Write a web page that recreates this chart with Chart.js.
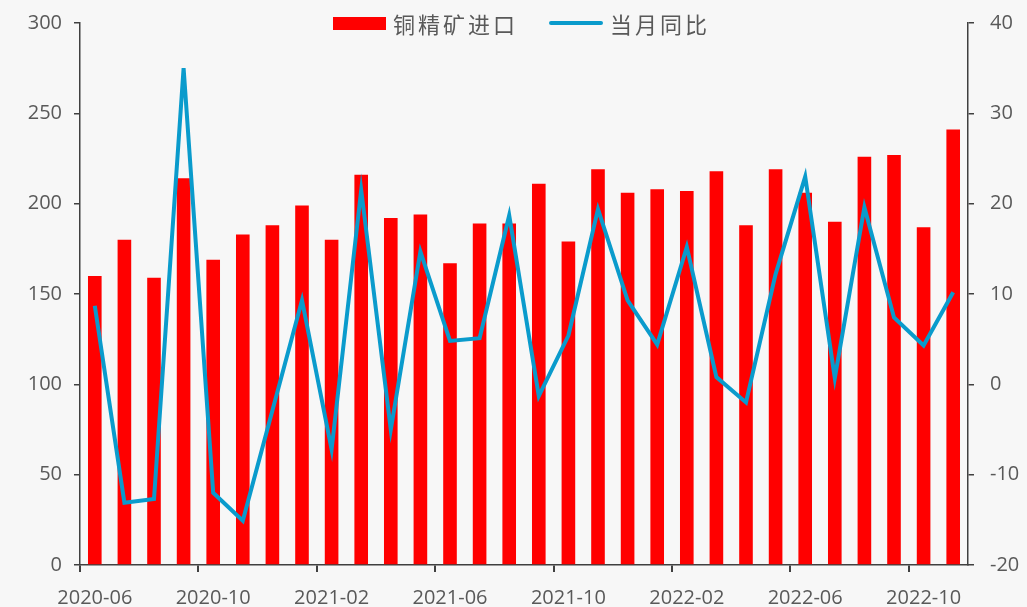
<!DOCTYPE html>
<html>
<head>
<meta charset="utf-8">
<script src="https://cdn.jsdelivr.net/npm/chart.js@4.4.0/dist/chart.umd.min.js"></script>
<style>
  html, body { margin: 0; padding: 0; background: #f7f7f7; }
  #wrap { position: relative; width: 1027px; height: 607px; }
  #legend { position: absolute; top: 7px; left: 333px; display: flex; align-items: center;
    font-family: "Noto Sans CJK SC", sans-serif; font-size: 22px; color: #595959; letter-spacing: 3px; }
  .sw-bar { display: inline-block; width: 53px; height: 13px; background: #ff0000; margin-right: 7px; }
  .sw-line { display: inline-block; width: 54px; height: 4px; background: #0a9bcc; border-radius: 2px; margin: 0 7px 0 31px; }
</style>
</head>
<body>
<div id="wrap">
  <canvas id="chart" width="1027" height="607"></canvas>
  <div id="legend"><span class="sw-bar"></span><span>铜精矿进口</span><span class="sw-line"></span><span>当月同比</span></div>
</div>
<script>
// months 2020-06 .. 2022-11
const months = [];
for (let i = 0; i < 30; i++) {
  const y = 2020 + Math.floor((5 + i) / 12);
  const m = (5 + i) % 12 + 1;
  months.push(y + "-" + String(m).padStart(2, "0"));
}

// 铜精矿进口 (万吨)
const imports = [160, 180, 159, 214, 169, 183, 188, 199, 180, 216,
                 192, 194, 167, 189, 189, 211, 179, 219, 206, 208,
                 207, 218, 188, 219, 206, 190, 226, 227, 187, 241];

// 当月同比 (%)
const yoy = [8.7, -13.1, -12.7, 35.0, -12.0, -15.1, -2.9, 9.3, -7.2, 21.5,
             -5.0, 14.7, 4.8, 5.1, 18.7, -1.3, 5.4, 19.4, 9.3, 4.4,
             15.2, 0.8, -2.0, 12.2, 23.0, 0.7, 19.6, 7.4, 4.3, 10.2];

const textColor = "#595959";
const axisColor = "#404040";
const tickFont = { family: "'Open Sans', sans-serif", size: 20 };

// y axes: fixed width, no extra top padding for the labels
const fitY = (w) => (s) => { s.width = w; s.paddingTop = 0; s.paddingBottom = 0; };

new Chart(document.getElementById("chart"), {
  type: "bar",
  data: {
    labels: months,
    datasets: [
      {
        type: "line",
        label: "当月同比",
        data: yoy,
        yAxisID: "y1",
        borderColor: "#0a9bcc",
        borderWidth: 4,
        pointRadius: 0,
        tension: 0,
        order: 0
      },
      {
        type: "bar",
        label: "铜精矿进口",
        data: imports,
        yAxisID: "y",
        backgroundColor: "#ff0000",
        barPercentage: 0.46,
        categoryPercentage: 1,
        order: 1
      }
    ]
  },
  options: {
    responsive: false,
    animation: false,
    layout: { padding: { top: 23, right: 0, left: 0, bottom: 0 } },
    plugins: { legend: { display: false }, tooltip: { enabled: false } },
    scales: {
      x: {
        offset: true,
        grid: {
          offset: true,
          drawOnChartArea: false,
          drawTicks: true,
          tickLength: 7,
          lineWidth: 2,
          color: (ctx) => (ctx.index % 4 === 0 ? axisColor : "rgba(0,0,0,0)")
        },
        border: { color: axisColor, width: 1.5 },
        ticks: {
          autoSkip: false,
          maxRotation: 0,
          color: textColor,
          font: tickFont,
          padding: 14,
          callback: (v, i) => (i % 4 === 0 ? months[i] : "")
        },
        afterFit: (s) => { s.height = 42; s.paddingLeft = 0; s.paddingRight = 0; }
      },
      y: {
        position: "left",
        min: 0, max: 300,
        ticks: { stepSize: 50, color: textColor, font: tickFont, padding: 12 },
        grid: { drawOnChartArea: false, tickLength: 6, color: axisColor, lineWidth: 1.5 },
        border: { color: axisColor, width: 1.5 },
        afterFit: fitY(80)
      },
      y1: {
        position: "right",
        min: -20, max: 40,
        ticks: { stepSize: 10, color: textColor, font: tickFont, padding: 16 },
        grid: { drawOnChartArea: false, tickLength: 6, color: axisColor, lineWidth: 1.5 },
        border: { color: axisColor, width: 1.5 },
        afterFit: fitY(59)
      }
    }
  }
});
</script>
</body>
</html>
